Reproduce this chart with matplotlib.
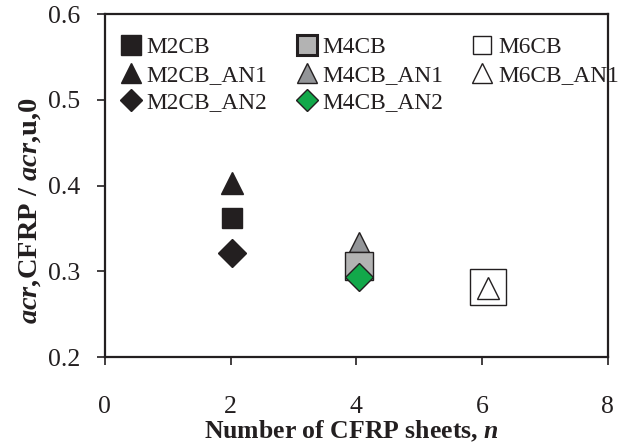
import matplotlib
matplotlib.use("Agg")
import matplotlib.pyplot as plt
from matplotlib.lines import Line2D

plt.rcParams['font.family'] = ['Liberation Serif', 'DejaVu Serif']
plt.rcParams['mathtext.fontset'] = 'custom'
plt.rcParams['mathtext.rm'] = 'Liberation Serif:bold'
plt.rcParams['mathtext.it'] = 'Liberation Serif:bold:italic'
plt.rcParams['mathtext.bf'] = 'Liberation Serif:bold'

# Data
labels = ["M2CB", "M2CB_AN1", "M2CB_AN2",
          "M4CB", "M4CB_AN1", "M4CB_AN2",
          "M6CB", "M6CB_AN1"]
n_sheets = [2.02, 2.02, 2.02, 4.05, 4.05, 4.05, 6.1, 6.1]
ratios = [0.362, 0.403, 0.321, 0.306, 0.334, 0.293, 0.282, 0.280]

markers = ['s', '^', 'D', 's', '^', 'D', 's', '^']
faces = ['#231f20', '#231f20', '#231f20', '#b3b3b3', '#939598', '#12a84a', 'white', 'white']
edges = ['#231f20'] * 8
sizes = [14.5, 16.5, 14.5, 20, 15, 14.5, 26, 16.5]
zorders = [3, 3, 3, 3, 2, 4, 3, 4]

fig = plt.figure(figsize=(6.24, 4.43), dpi=100)
ax = fig.add_axes([0.168, 0.194, 0.806, 0.774])

for x, y, m, fc, ec, s, z in zip(n_sheets, ratios, markers, faces, edges, sizes, zorders):
    ax.plot([x], [y], marker=m, markersize=s, markerfacecolor=fc,
            markeredgecolor=ec, markeredgewidth=1.0, linestyle='none', zorder=z)

ax.set_xlim(0, 8)
ax.set_ylim(0.2, 0.6)
ax.set_xticks([0, 2, 4, 6, 8])
ax.set_yticks([0.2, 0.3, 0.4, 0.5, 0.6])
ax.set_yticklabels(['0.2', '0.3', '0.4', '0.5', '0.6'])
ax.tick_params(axis='x', direction='out', length=6, width=1.2, pad=22, labelsize=18.5, colors='#231f20')
ax.tick_params(axis='y', direction='out', length=6, width=1.2, pad=12, labelsize=18.5, colors='#231f20')
for sp in ax.spines.values():
    sp.set_linewidth(1.6)
    sp.set_color('#231f20')

ax.set_xlabel(r'Number of CFRP sheets, $\mathit{n}$', fontsize=18.5, fontweight='bold', color='#231f20')
ax.set_ylabel(r'$\mathit{acr}$,CFRP / $\mathit{acr}$,u,0', fontsize=20.5, fontweight='bold', color='#231f20')
ax.xaxis.set_label_coords(0.49, -0.18)
ax.yaxis.set_label_coords(-0.123, 0.426)

# Legend (uniform marker size)
leg_sizes = [14, 15, 11, 14, 15, 11, 13, 15]
leg_ew = [1, 1, 1, 2.2, 1, 1, 1, 1]
handles = []
for l, m, fc, ec, s, w in zip(labels, markers, faces, edges, leg_sizes, leg_ew):
    handles.append(Line2D([], [], marker=m, markersize=s, markerfacecolor=fc,
                          markeredgecolor=ec, markeredgewidth=w, linestyle='none', label=l))
leg = ax.legend(handles=handles, ncol=3, loc='upper left', bbox_to_anchor=(0.0, 0.975),
                frameon=False, fontsize=16.8, handlelength=1.05, handletextpad=0.15,
                columnspacing=1.15, labelspacing=0.27, borderaxespad=0.2)
for t in leg.get_texts():
    t.set_color('#231f20')

fig.savefig('out.png', dpi=100)
